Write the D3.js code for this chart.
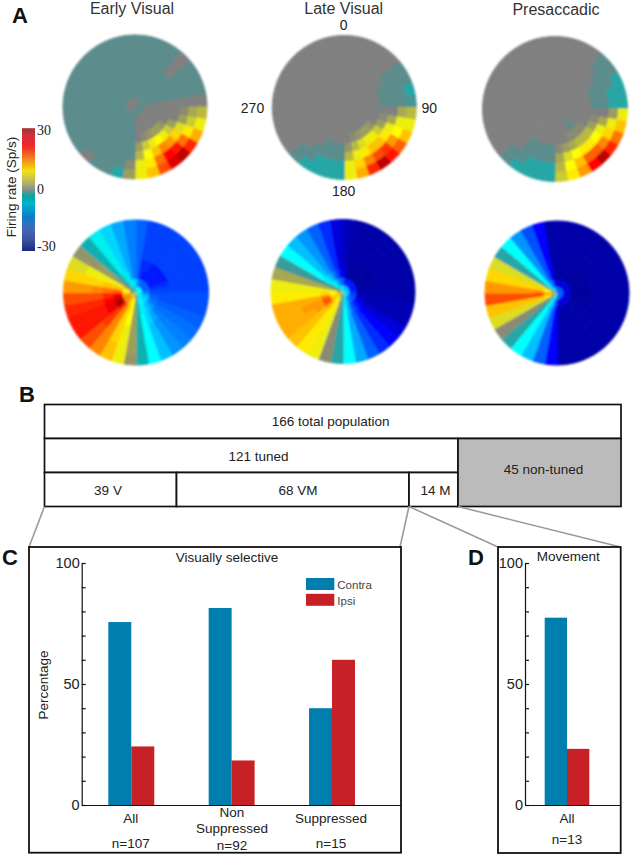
<!DOCTYPE html>
<html lang="en">
<head>
<meta charset="UTF-8">
<title>Firing rate maps and tuning</title>
<script src="https://d3js.org/d3.v7.min.js"></script>
<style>
    body { margin: 0; background: white; }
    svg text { font-family: "Liberation Sans", Arial, sans-serif; fill: #222; }
    svg text.letter { font-size: 22px; font-weight: bold; fill: #111; }
    svg text.serif { font-family: "Liberation Serif", serif; font-size: 14px; }
</style>
</head>
<body>
<svg id="canvas" width="632" height="855"></svg>
<script>
    // firing rate in Sp/s, one row per 10 deg bin (clockwise from top), eight rings inner to outer
    const earlyTop = [
        [0,-1.5,-1.5,-1.5,-1.5,-1.5,-1.5,-1.5],[0,-1.5,-1.5,-1.5,-1.5,-1.5,-1.5,-1.5],
        [0,-1.5,-1.5,-1.5,-1.5,-1.5,-1.5,-1.5],[0,-1.5,-1.5,-1.5,-1.5,-1.5,-1.5,-1.5],
        [0,-1.5,-1.5,-1.5,-1.5,0,0,0],[-1.5,-1.5,-1.5,-1.5,-1.5,-1.5,-1.5,-1.5],
        [-1.5,-1.5,-1.5,-1.5,-1.5,-1.5,-1.5,-1.5],[-1.5,-1.5,-1.5,-1.5,-1.5,-1.5,-1.5,-1.5],
        [-1.5,0,0,0,0,0,0,0],[-1.5,0,0,0,0,1,4,5],
        [-1.5,0,0,0,0,3,6,8],[-1.5,0,0,0,3,7,10,13],
        [-1.5,0,0,2,6,11,16,20],[-1.5,0,0,3,8,14,21,26],
        [-1.5,0,0,3,9,15,22,24],[-1.5,0,0,2,8,12,16,18],
        [-1.5,0,0,1,6,9,10,12],[-1.5,0,0,0,3,5,8,8],
        [-1.5,-1.5,-1.5,-1.5,-1.5,-1.5,1,3],[-1.5,-1.5,-1.5,-1.5,-1.5,-1.5,-1.5,-4],
        [-1.5,-1.5,-1.5,-1.5,-1.5,-1.5,-1.5,-1.5],[-1.5,-1.5,-1.5,-1.5,-1.5,-1.5,-1.5,-1.5],
        [-1.5,-1.5,-1.5,-1.5,-1.5,-1.5,-1.5,0],[0,-1.5,-1.5,-1.5,-1.5,-1.5,-1.5,-1.5],
        [0,-1.5,-1.5,-1.5,-1.5,-1.5,-1.5,-1.5],[0,-1.5,-1.5,-1.5,-1.5,-1.5,-1.5,-1.5],
        [0,-1.5,-1.5,-1.5,-1.5,-1.5,-1.5,-1.5],[0,-1.5,-1.5,-1.5,-1.5,-1.5,-1.5,-1.5],
        [0,-1.5,-1.5,-1.5,-1.5,-1.5,-1.5,-1.5],[0,-1.5,-1.5,-1.5,-1.5,-1.5,-1.5,-1.5],
        [0,-1.5,-1.5,-1.5,-1.5,-1.5,-1.5,-1.5],[0,-1.5,-1.5,-1.5,-1.5,-1.5,-1.5,-1.5],
        [0,-1.5,-1.5,-1.5,-1.5,-1.5,-1.5,-1.5],[0,-1.5,-1.5,-1.5,-1.5,-1.5,-1.5,-1.5],
        [0,-1.5,-1.5,-1.5,-1.5,-1.5,-1.5,-1.5],[0,-1.5,-1.5,-1.5,-1.5,-1.5,-1.5,-1.5]
    ];
    const lateTop = [
        [0,0,0,0,0,0,0,0],[0,0,0,0,0,0,0,0],[0,0,0,0,0,0,0,0],[0,0,0,0,0,0,0,0],
        [0,0,0,0,0,0,0,0],[0,0,0,0,0,-1.5,-1.5,-1.5],[0,0,0,0,-1.5,-1.5,-1.5,-1.5],[0,0,0,0,-1.5,-1.5,-1.5,-4],
        [0,0,0,0,-1.5,-1.5,-1.5,-2.5],[0,0,0,0,0,0,4,5],[0,0,0,0,1,4,8,8],[0,0,0,0,3,8,9,12],
        [0,0,0,2,6,10,14,17],[0,0,0,3,8,12,19,21],[0,0,0,3,8,12,18,26],[0,0,0,2,7,10,15,20],
        [0,0,0,1,5,8,11,13],[0,0,0,0,2,5,8,8],[0,0,0,0,-1.5,-1.5,-4,-4],[0,0,0,0,-1.5,-1.5,-4,-4],
        [0,0,0,0,-1.5,-1.5,-4,-4],[0,0,0,0,0,-1.5,-1.5,-4],[0,0,0,0,0,0,-1.5,-1.5],[0,0,0,0,0,0,0,0],
        [0,0,0,0,0,0,0,0],[0,0,0,0,0,0,0,0],[0,0,0,0,0,0,0,0],[0,0,0,0,0,0,0,0],
        [0,0,0,0,0,0,0,0],[0,0,0,0,0,0,0,0],[0,0,0,0,0,0,0,0],[0,0,0,0,0,0,0,0],
        [0,0,0,0,0,0,0,0],[0,0,0,0,0,0,0,0],[0,0,0,0,0,0,0,0],[0,0,0,0,0,0,0,0]
    ];
    const presaccadicTop = [
        [0,0,0,0,0,0,0,0],[0,0,0,0,0,0,0,0],[0,0,0,0,0,0,0,0],[0,0,0,0,0,0,0,0],
        [0,0,0,0,0,0,-1.5,-1.5],[0,0,0,0,0,-1.5,-1.5,-1.5],[0,0,0,0,-1.5,-1.5,-1.5,-4],[0,0,0,0,-1.5,-1.5,-4,-4],
        [0,0,0,0,-1.5,-1.5,-4,-4],[0,0,0,0,0,0,3,8],[0,0,0,0,1,4,8,12],[0,0,0,0,3,8,11,16],
        [0,0,0,1,5,9,15,20],[0,-1.5,-1.5,1,5,10,17,26],[0,0,-1,1,5,10,17,22],[0,0,0,1,4,9,12,14],
        [0,0,0,0,3,7,9,10],[0,0,0,0,1,4,5,6],[0,0,0,0,-1.5,-1.5,-4,-4],[0,0,0,0,-1.5,-1.5,-4,-4],
        [0,0,0,0,-1.5,-1.5,-4,-4],[0,0,0,0,-1.5,-1.5,-1.5,-4],[0,0,0,0,0,0,-1.5,-1.5],[0,0,0,0,0,0,0,0],
        [0,0,0,0,0,0,0,0],[0,0,0,0,0,0,0,0],[0,0,0,0,0,0,0,0],[0,0,0,0,0,0,0,0],
        [0,0,0,0,0,0,0,0],[0,0,0,0,0,0,0,0],[0,0,0,0,0,0,0,0],[0,0,0,0,0,0,0,0],
        [0,0,0,0,0,0,0,0],[0,0,0,0,0,0,0,0],[0,0,0,0,0,0,0,0],[0,0,0,0,0,0,0,0]
    ];
    const earlyBottom = [
        [-8,-14,-18,-18,-18,-18,-18,-18],[-9,-16,-21,-21,-20,-20,-20,-20],[-9,-17,-22,-21,-20,-20,-20,-20],
        [-10,-18,-22,-22,-20,-20,-20,-20],[-10,-18,-22,-22,-20,-20,-20,-20],[-10,-18,-22,-22,-20,-20,-20,-20],
        [-10,-18,-22,-22,-20,-20,-20,-20],[-10,-18,-21,-21,-20,-20,-20,-20],[-10,-17,-20,-20,-20,-20,-20,-20],
        [-9,-16,-19,-19,-19,-19,-19,-19],[-9,-14,-18,-19,-19,-19,-19,-19],[-9,-13,-17,-18,-18,-18,-18,-18],
        [-9,-12,-16,-17,-17,-17,-17,-17],[-9,-12,-14,-16,-16,-16,-16,-16],[-9,-11,-13,-14,-15,-15,-15,-15],
        [-9,-10,-11,-12,-13,-13,-13,-13],[-7,-9,-9,-10,-10,-10,-10,-10],[-3,-4,-5,-5,-5,-5,-5,-5],
        [1,2,3,3,3,3,3,2],[5,9,9,9,8,8,8,8],[6,10,11,11,11,11,12,12],
        [6,12,15,15,15,15,15,15],[6,14,20,19,19,18,18,18],[6,15,27,23,21,21,21,21],
        [6,15,27,23,21,21,21,21],[6,15,25,22,20,20,20,20],[5,12,22,20,18,18,18,18],
        [4,10,17,16,15,14,14,14],[3,9,12,12,11,11,11,11],[2,6,8,8,8,8,7,7],
        [0,1,2,3,3,2,2,2],[-2,-3,-4,-5,-5,-5,-5,-5],[-5,-7,-8,-9,-9,-9,-9,-9],
        [-7,-9,-11,-12,-12,-12,-12,-12],[-8,-11,-14,-14,-14,-14,-14,-14],[-8,-12,-16,-16,-16,-16,-16,-16]
    ];
    const lateBottom = [
        [-12,-20,-24,-25,-25,-25,-25,-25],[-13,-22,-26,-26,-26,-26,-26,-26],[-13,-22,-26,-26,-26,-26,-26,-26],
        [-13,-22,-27,-27,-26,-26,-26,-26],[-13,-22,-27,-27,-26,-26,-26,-26],[-13,-22,-27,-27,-26,-26,-26,-26],
        [-13,-22,-27,-27,-26,-26,-26,-26],[-13,-22,-26,-26,-26,-26,-26,-26],[-13,-22,-26,-26,-26,-26,-26,-26],
        [-12,-21,-25,-26,-26,-26,-26,-26],[-12,-20,-25,-25,-25,-25,-25,-25],[-12,-20,-24,-25,-25,-25,-25,-25],
        [-12,-19,-23,-24,-24,-24,-24,-24],[-11,-18,-22,-23,-23,-23,-23,-23],[-11,-17,-20,-21,-21,-21,-21,-21],
        [-10,-15,-17,-18,-18,-18,-18,-18],[-9,-12,-13,-14,-14,-14,-14,-14],[-7,-9,-10,-10,-10,-10,-10,-10],
        [-2,-4,-4,-4,-4,-4,-4,-4],[1,1,1,1,1,1,1,1],[4,7,8,8,8,8,8,8],
        [5,9,10,10,10,10,10,10],[6,11,13,12,12,12,12,12],[6,12,17,14,13,13,13,13],
        [6,12,18,14,14,13,13,13],[6,10,15,13,13,13,13,13],[5,9,11,10,10,10,10,10],
        [4,8,8,8,8,8,8,8],[2,3,4,4,4,4,4,4],[-1,-2,-3,-3,-3,-3,-3,-3],
        [-4,-7,-9,-10,-10,-10,-10,-10],[-6,-10,-12,-13,-13,-13,-13,-13],[-7,-12,-14,-15,-15,-15,-15,-15],
        [-9,-14,-17,-18,-18,-18,-18,-18],[-10,-16,-20,-21,-21,-21,-21,-21],[-11,-18,-23,-24,-24,-24,-24,-24]
    ];
    const presaccadicBottom = [
        [-18,-24,-26,-26,-26,-26,-26,-26],[-18,-24,-26,-26,-26,-26,-26,-26],[-18,-24,-26,-26,-26,-26,-26,-26],
        [-18,-24,-27,-27,-26,-26,-26,-26],[-18,-24,-27,-27,-26,-26,-26,-26],[-18,-24,-27,-27,-26,-26,-26,-26],
        [-18,-24,-27,-27,-26,-26,-26,-26],[-18,-24,-27,-27,-26,-26,-26,-26],[-18,-24,-27,-27,-26,-26,-26,-26],
        [-18,-24,-27,-27,-26,-26,-26,-26],[-18,-24,-27,-27,-26,-26,-26,-26],[-18,-24,-27,-27,-26,-26,-26,-26],
        [-18,-24,-26,-26,-26,-26,-26,-26],[-18,-24,-26,-26,-26,-26,-26,-26],[-18,-24,-26,-26,-26,-26,-26,-26],
        [-18,-24,-26,-26,-26,-26,-26,-26],[-18,-24,-26,-26,-26,-26,-26,-26],[-18,-24,-26,-26,-26,-26,-26,-26],
        [-15,-20,-23,-23,-23,-23,-23,-23],[-12,-16,-18,-18,-18,-18,-18,-18],[-10,-12,-13,-13,-13,-13,-13,-13],
        [-9,-10,-10,-10,-10,-10,-10,-10],[-4,-4,-4,-4,-4,-4,-4,-4],[0,1,1,1,1,1,1,1],
        [3,7,7,7,7,7,7,7],[5,10,12,12,12,12,12,12],[6,14,19,18,18,18,18,18],
        [5,12,15,14,14,14,14,14],[4,9,11,11,11,11,11,11],[3,6,7,7,7,7,7,7],
        [-3,-4,-4,-4,-4,-4,-4,-4],[-7,-10,-10,-10,-10,-10,-10,-10],[-9,-14,-15,-15,-15,-15,-15,-15],
        [-11,-16,-19,-19,-19,-19,-19,-19],[-14,-20,-23,-23,-23,-23,-23,-23],[-17,-24,-26,-26,-26,-26,-26,-26]
    ];

    const colorStops = [-30, -25, -23, -20, -16, -10, -5, -1.5, 0, 4, 9, 14, 22, 30];
    const colorRange = ["#00007f", "#0000b4", "#0000ff", "#0040ff", "#0080ff", "#00ffff", "#10b0b0", "#5c8c8c",
        "#808080", "#a8a850", "#ffff00", "#ff9900", "#ff0000", "#7f0000"];
    // the printed colour bar is duller than the maps
    const barStops = [-30, -20, -14, -7, -3, 0, 3, 9, 15, 22, 27, 30];
    const barRange = ["#1b2a80", "#2a52a8", "#0a78c8", "#00b5d0", "#00a09a", "#808080", "#a5a555",
        "#f0e000", "#f58220", "#ed1c24", "#c4161c", "#8b1a1f"];

    // panel B
    const populationRows = [
        [{label: "166 total population", from: 0, to: 166}],
        [{label: "121 tuned", from: 0, to: 121}],
        [{label: "39 V", from: 0, to: 39}, {label: "68 VM", from: 39, to: 107}, {label: "14 M", from: 107, to: 121}]
    ];
    const nonTuned = {label: "45 non-tuned", from: 121, to: 166};

    // panels C and D
    const selectiveGroups = ["All", "Non Suppressed", "Suppressed"];
    const selectiveCounts = ["n=107", "n=92", "n=15"];
    const selectiveContra = [75.6, 81.4, 40];
    const selectiveIpsi = [24.2, 18.4, 60];
    const movementContra = [77.4];
    const movementIpsi = [23.2];
    const yTicks = [0, 10, 20, 30, 40, 50, 60, 70, 80, 90, 100];

    let svg = d3.select("#canvas");
    let color = d3.scaleLinear().domain(colorStops).range(colorRange).clamp(true);
    let barColor = d3.scaleLinear().domain(barStops).range(barRange).clamp(true);

    function letter(t, x, y) {
        svg.append("text").attr("class", "letter").attr("x", x).attr("y", y).text(t);
    }

    function label(t, x, y, size, anchor) {
        return svg.append("text").attr("x", x).attr("y", y)
            .attr("font-size", size).attr("text-anchor", anchor || "middle").text(t);
    }

    // ---- panel A ----
    let defs = svg.append("defs");
    defs.append("filter").attr("id", "soft").attr("x", "-5%").attr("y", "-5%").attr("width", "110%").attr("height", "110%")
        .append("feGaussianBlur").attr("stdDeviation", 0.85);

    function polarMap(data, cx, cy, radius, ringDomain) {
        let angle = d3.scaleLinear().domain([0, 36]).range([0, 2 * Math.PI]);
        let ring = d3.scaleLinear().domain(ringDomain).range(d3.range(9).map(i => radius * i / 8));
        let arc = d3.arc()
            .innerRadius(d => ring(d.r))
            .outerRadius(d => ring(d.r + 1))
            .startAngle(d => angle(d.a))
            .endAngle(d => angle(d.a + 1));
        let cells = data.flatMap((row, a) => row.map((v, r) => ({a: a, r: r, v: v})));
        svg.append("g")
            .attr("transform", "translate(" + cx + "," + cy + ")")
            .attr("filter", "url(#soft)")
            .selectAll("path")
            .data(cells)
            .join("path")
            .attr("d", arc)
            .attr("fill", d => color(d.v))
            .attr("stroke", d => color(d.v))
            .attr("stroke-width", 1);
    }

    // top maps have even rings, bottom maps pack the inner rings tighter
    const evenRings = [0, 1, 2, 3, 4, 5, 6, 7, 8];
    const tightRings = [0, 1.4, 2.5, 3.4, 4.2, 5, 6, 7, 8];
    polarMap(earlyTop, 135, 107, 72, evenRings);
    polarMap(lateTop, 344.3, 107.5, 72, evenRings);
    polarMap(presaccadicTop, 555, 109, 72.5, evenRings);
    polarMap(earlyBottom, 136, 292.5, 72.5, tightRings);
    polarMap(lateBottom, 343, 291.5, 72, tightRings);
    polarMap(presaccadicBottom, 557, 293, 72, tightRings);

    letter("A", 12, 23);
    label("Early Visual", 132, 14, 16).style("fill", "#333");
    label("Late Visual", 343.7, 14, 16).style("fill", "#333");
    label("Presaccadic", 556, 15, 16).style("fill", "#333");
    label("0", 343.7, 30, 14);
    label("270", 252.5, 113, 14);
    label("90", 421.5, 113, 14, "start");
    label("180", 343.7, 196, 14);

    // colour bar
    let barY = d3.scaleLinear().domain([-30, 30]).range([250.7, 128.3]);
    svg.append("g").selectAll("rect")
        .data(d3.range(-30, 30, 0.5))
        .join("rect")
        .attr("x", 22)
        .attr("width", 13)
        .attr("y", d => barY(d + 0.5))
        .attr("height", d => barY(d) - barY(d + 0.5) + 0.3)
        .attr("fill", d => barColor(d));
    [[30, "30", 6.5], [0, "0", 4], [-30, "-30", 0]].forEach(function (t) {
        svg.append("text").attr("class", "serif").attr("x", 37)
            .attr("y", barY(t[0]) + t[2])
            .text(t[1]);
    });
    label("Firing rate (Sp/s)", 0, 0, 13.5)
        .attr("transform", "translate(16,187) rotate(-90)");

    // ---- panel B ----
    letter("B", 19, 402);
    // the printed table is not strictly to scale, so the column edges are pinned
    let popX = d3.scaleLinear().domain([0, 39, 107, 121, 166]).range([44.5, 176.5, 409, 458, 621]);
    let popY = d3.scaleBand().domain([0, 1, 2]).range([404.5, 506.5]);

    let popCells = populationRows.flatMap((row, i) => row.map(c => Object.assign({row: i}, c)));
    svg.append("g").selectAll("rect")
        .data(popCells)
        .join("rect")
        .attr("x", d => popX(d.from))
        .attr("y", d => popY(d.row))
        .attr("width", d => popX(d.to) - popX(d.from))
        .attr("height", popY.bandwidth())
        .attr("fill", "white")
        .attr("stroke", "#111")
        .attr("stroke-width", 1.7);
    svg.append("rect")
        .attr("x", popX(nonTuned.from))
        .attr("y", popY(1))
        .attr("width", popX(nonTuned.to) - popX(nonTuned.from))
        .attr("height", popY.bandwidth() * 2)
        .attr("fill", "#bbbbbb")
        .attr("stroke", "#111")
        .attr("stroke-width", 1.7);
    // labels sit a bit off the cell centres in the original
    let popLabelX = [330.6, 258.5, 108, 298, 435.5];
    let popLabelY = [425.5, 461, 495, 495, 495];
    popCells.forEach(function (d, i) {
        label(d.label, popLabelX[i], popLabelY[i], 13.5);
    });
    label(nonTuned.label, 543.5, 473.5, 13.5);

    // connectors
    let connectors = [
        [[popX(0), 506.5], [29, 547]],
        [[popX(107), 506.5], [400, 547]],
        [[popX(107), 506.5], [498, 547]],
        [[popX(121), 506.5], [620.5, 547]]
    ];
    svg.append("g").selectAll("path")
        .data(connectors)
        .join("path")
        .attr("d", d3.line())
        .attr("fill", "none")
        .attr("stroke", "#9a9a9a")
        .attr("stroke-width", 1.6);

    // ---- bar panels ----
    function barPanel(opt) {
        svg.append("rect")
            .attr("x", opt.box[0]).attr("y", opt.box[1])
            .attr("width", opt.box[2] - opt.box[0]).attr("height", opt.box[3] - opt.box[1])
            .attr("fill", "white").attr("stroke", "#111").attr("stroke-width", 1.8);

        let y = d3.scaleLinear().domain([0, 100]).range([805, 563]);
        let x0 = d3.scaleBand().domain(opt.groups).range(opt.barRange).paddingInner(opt.gap);
        let x1 = d3.scaleBand().domain(["contra", "ipsi"]).range([0, x0.bandwidth()]);

        let g = svg.append("g");
        opt.groups.forEach(function (name, i) {
            g.append("rect").attr("x", x0(name) + x1("contra")).attr("width", x1.bandwidth())
                .attr("y", y(opt.contra[i])).attr("height", y(0) - y(opt.contra[i])).attr("fill", "#007fae");
            g.append("rect").attr("x", x0(name) + x1("ipsi")).attr("width", x1.bandwidth())
                .attr("y", y(opt.ipsi[i])).attr("height", y(0) - y(opt.ipsi[i])).attr("fill", "#c72026");
        });

        let axis = d3.axisLeft(y)
            .tickValues(yTicks)
            .tickSizeInner(-4)
            .tickSizeOuter(0)
            .tickPadding(2)
            .tickFormat(d => d % 50 === 0 ? d : "");
        let yg = svg.append("g").attr("transform", "translate(" + opt.axisX + ",0)").call(axis);
        yg.selectAll("text").attr("font-size", 14.5).attr("font-family", null);
        yg.selectAll("line,path").attr("stroke", "#111").attr("stroke-width", 1.2);

        let baseline = d3.scaleLinear().domain([0, 1]).range([opt.axisX, opt.box[2]]);
        let xg = svg.append("g").attr("transform", "translate(0," + y(0) + ")")
            .call(d3.axisBottom(baseline).tickValues([]).tickSizeOuter(0));
        xg.select("path").attr("stroke", "#111").attr("stroke-width", 1.2);
    }

    barPanel({
        box: [29, 547, 401, 852.7],
        axisX: 81.7,
        barRange: [108.3, 355],
        gap: 0.542,
        groups: selectiveGroups,
        contra: selectiveContra,
        ipsi: selectiveIpsi
    });
    barPanel({
        box: [498, 547, 620.7, 853],
        axisX: 525,
        barRange: [544.7, 589.3],
        gap: 0,
        groups: ["All"],
        contra: movementContra,
        ipsi: movementIpsi
    });

    letter("C", 2, 565);
    letter("D", 468, 565);

    label("Visually selective", 227, 562, 13.5);
    label("Movement", 568.3, 560.7, 13.5);
    label("Percentage", 0, 0, 13.5).attr("transform", "translate(48,685) rotate(-90)");

    // legend
    let legendNames = ["Contra", "Ipsi"];
    let legendColors = ["#007fae", "#c72026"];
    legendNames.forEach(function (name, i) {
        svg.append("rect").attr("x", 306).attr("y", 578 + i * 15.8).attr("width", 28.3).attr("height", 12)
            .attr("fill", legendColors[i]);
        label(name, 337.3, 588.7 + i * 15.8, 11.5, "start").style("fill", "#444");
    });

    label("All", 130.7, 822.7, 13.5);
    label("Non", 232, 816.7, 13.5);
    label("Suppressed", 232, 833, 13.5);
    label("Suppressed", 331, 822.7, 13.5);
    label(selectiveCounts[0], 130.7, 848, 13.5);
    label(selectiveCounts[1], 232, 850, 13.5);
    label(selectiveCounts[2], 331, 848, 13.5);
    label("All", 567, 822.7, 13.5);
    label("n=13", 567, 844, 13.5);
</script>
</body>
</html>
